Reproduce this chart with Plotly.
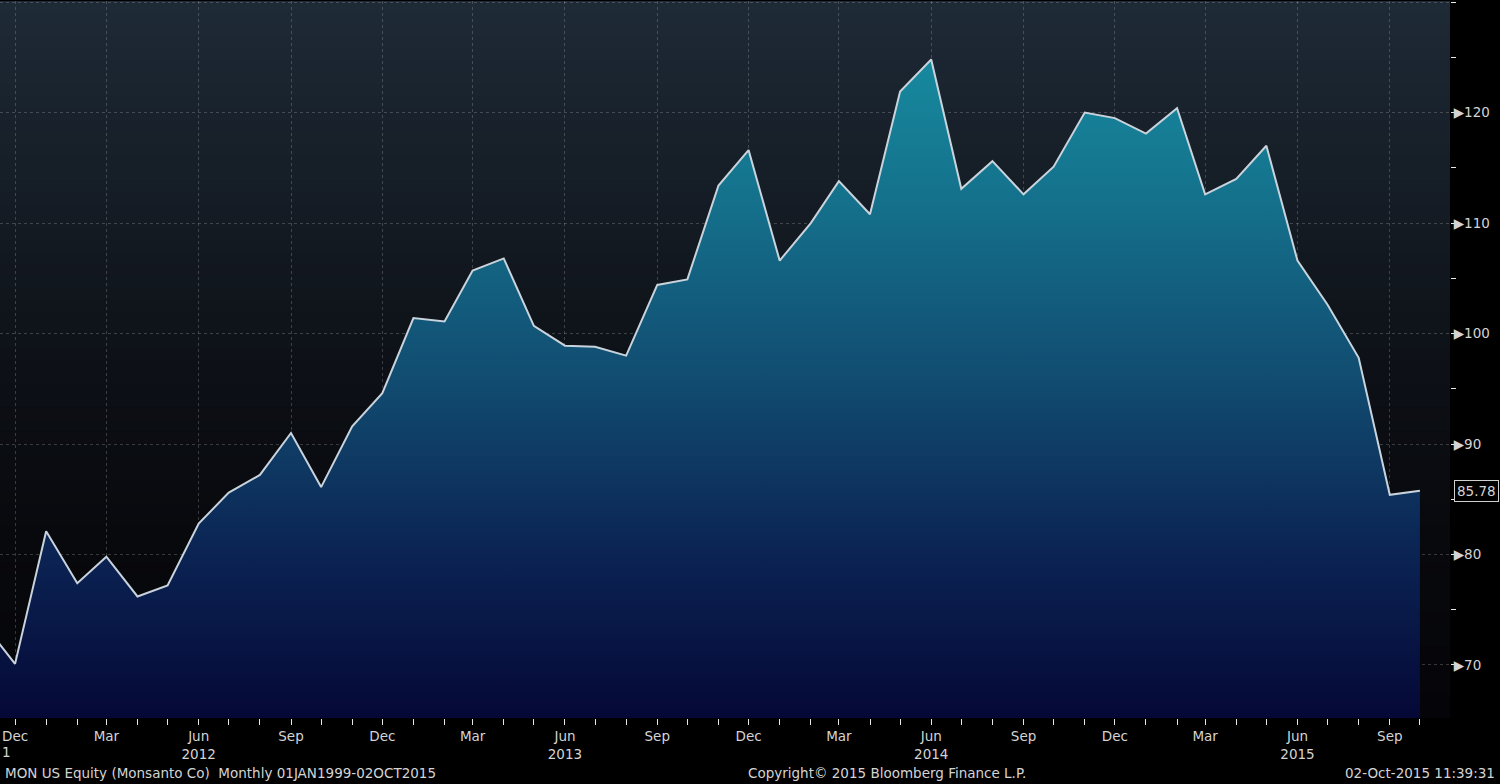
import plotly.graph_objects as go
import numpy as np

# ---------------- data ----------------
months = [
    "2011-11-01", "2011-12-01",
    "2012-01-01", "2012-02-01", "2012-03-01", "2012-04-01", "2012-05-01", "2012-06-01",
    "2012-07-01", "2012-08-01", "2012-09-01", "2012-10-01", "2012-11-01", "2012-12-01",
    "2013-01-01", "2013-02-01", "2013-03-01", "2013-04-01", "2013-05-01", "2013-06-01",
    "2013-07-01", "2013-08-01", "2013-09-01", "2013-10-01", "2013-11-01", "2013-12-01",
    "2014-01-01", "2014-02-01", "2014-03-01", "2014-04-01", "2014-05-01", "2014-06-01",
    "2014-07-01", "2014-08-01", "2014-09-01", "2014-10-01", "2014-11-01", "2014-12-01",
    "2015-01-01", "2015-02-01", "2015-03-01", "2015-04-01", "2015-05-01", "2015-06-01",
    "2015-07-01", "2015-08-01", "2015-09-01", "2015-10-01",
]
prices = [
    73.6, 70.1,
    82.1, 77.4, 79.8, 76.2, 77.2, 82.8,
    85.6, 87.2, 91.0, 86.1, 91.6, 94.6,
    101.4, 101.1, 105.7, 106.8, 100.7, 98.9,
    98.8, 98.0, 104.4, 104.9, 113.4, 116.6,
    106.6, 110.0, 113.8, 110.8, 121.9, 124.8,
    113.1, 115.6, 112.6, 115.1, 120.0, 119.5,
    118.1, 120.4, 112.6, 114.0, 117.0, 106.6,
    102.6, 97.8, 85.4, 85.78,
]
last_value_label = "85.78"

x_tick_dates = [
    "2011-12-01", "2012-03-01", "2012-06-01", "2012-09-01", "2012-12-01",
    "2013-03-01", "2013-06-01", "2013-09-01", "2013-12-01",
    "2014-03-01", "2014-06-01", "2014-09-01", "2014-12-01",
    "2015-03-01", "2015-06-01", "2015-09-01",
]
x_tick_text = [
    "Dec", "Mar", "Jun<br>2012", "Sep", "Dec",
    "Mar", "Jun<br>2013", "Sep", "Dec",
    "Mar", "Jun<br>2014", "Sep", "Dec",
    "Mar", "Jun<br>2015", "Sep",
]
y_tick_vals = [70, 80, 90, 100, 110, 120, 130]
y_tick_text = ["\u25B6" + (str(v) if v < 130 else "") for v in y_tick_vals]

footer_left = "MON US Equity (Monsanto Co)\u00a0\u00a0Monthly 01JAN1999-02OCT2015"
footer_mid = "Copyright\u00a9 2015 Bloomberg Finance L.P."
footer_right = "02-Oct-2015 11:39:31"
year_cut_label = "1"   # visible tail of the 2011 year label at the left edge

# ---------------- styling ----------------
FONT = "DejaVu Sans"
TXT = "#d4d4d4"
FS = 13.5

fig = go.Figure()

# background gradient stripes (plot area)
stops_pos = [0.0, 0.25, 0.45, 0.7, 1.0]
stops_col = [(5, 5, 9), (8, 9, 13), (12, 15, 21), (20, 27, 35), (30, 42, 55)]
n_str = 60
shapes = []
for i in range(n_str):
    y0 = i / n_str
    y1 = (i + 1) / n_str
    mid = (y0 + y1) / 2
    c = [int(round(np.interp(mid, stops_pos, [s[k] for s in stops_col]))) for k in range(3)]
    shapes.append(dict(type="rect", xref="paper", yref="paper", x0=0, x1=1, y0=y0, y1=min(1, y1 + 0.002),
                       fillcolor=f"rgb({c[0]},{c[1]},{c[2]})", line=dict(width=0), layer="below"))

fig.add_trace(go.Scatter(
    x=months, y=prices, mode="lines",
    line=dict(color="#c9d3dc", width=2),
    fill="tozeroy",
    fillgradient=dict(
        type="vertical", start=65.2, stop=126,
        colorscale=[[0.0, "#050836"], [0.25, "#0b2454"], [0.5, "#114b70"],
                    [0.75, "#146e8a"], [1.0, "#178ca0"]],
    ),
    hoverinfo="skip", showlegend=False,
))

FY = (718 - 773) / 717
annotations = [
    dict(text=footer_left, xref="paper", yref="paper", x=3 / 1450, y=FY,
         xanchor="left", yanchor="middle", showarrow=False, font=dict(family=FONT, size=FS, color=TXT)),
    dict(text=footer_mid, xref="paper", yref="paper", x=887 / 1450, y=FY,
         xanchor="center", yanchor="middle", showarrow=False, font=dict(family=FONT, size=FS, color=TXT)),
    dict(text=footer_right, xref="paper", yref="paper", x=1497 / 1450, y=FY,
         xanchor="right", yanchor="middle", showarrow=False, font=dict(family=FONT, size=FS, color=TXT)),
    dict(text=year_cut_label, xref="paper", yref="paper", x=0, y=(718 - 752) / 717,
         xanchor="left", yanchor="middle", showarrow=False, font=dict(family=FONT, size=FS, color=TXT)),
    dict(text=last_value_label, xref="paper", yref="y", x=1, xshift=4, y=prices[-1],
         xanchor="left", yanchor="middle", showarrow=False,
         bgcolor="#000000", bordercolor="#cfcfcf", borderwidth=1, borderpad=2,
         font=dict(family=FONT, size=FS, color=TXT)),
]

fig.update_layout(
    width=1500, height=784,
    margin=dict(l=0, r=50, t=1, b=66),
    paper_bgcolor="#000000",
    plot_bgcolor="#050509",
    shapes=shapes,
    annotations=annotations,
    showlegend=False,
    xaxis=dict(
        type="date",
        range=["2011-11-16", "2015-10-31"],
        tickvals=x_tick_dates, ticktext=x_tick_text,
        tickfont=dict(family=FONT, size=FS, color=TXT),
        ticks="outside", ticklen=6, tickcolor="#e8e8e8", tickwidth=1,
        showgrid=True, gridcolor="rgba(200,200,200,0.25)", griddash="dot", gridwidth=1,
        minor=dict(dtick="M1", tick0="2011-12-01", ticks="outside", ticklen=6,
                   tickcolor="#e8e8e8", showgrid=False),
        showline=False, zeroline=False, fixedrange=True,
    ),
    yaxis=dict(
        side="right",
        range=[65.2, 130.1],
        tickvals=y_tick_vals, ticktext=y_tick_text,
        tickfont=dict(family=FONT, size=FS, color=TXT),
        ticks="outside", ticklen=0, tickcolor="#e8e8e8",
        showgrid=True, gridcolor="rgba(200,200,200,0.25)", griddash="dot", gridwidth=1,
        minor=dict(dtick=5, tick0=65, ticks="outside", ticklen=5, tickcolor="#e8e8e8", showgrid=False),
        showline=False, zeroline=False, fixedrange=True,
    ),
)

fig.write_html(
    "out.html",
    config={"displayModeBar": False, "staticPlot": True},
    post_script="document.body.style.margin='0px';document.body.style.overflow='hidden';",
)
